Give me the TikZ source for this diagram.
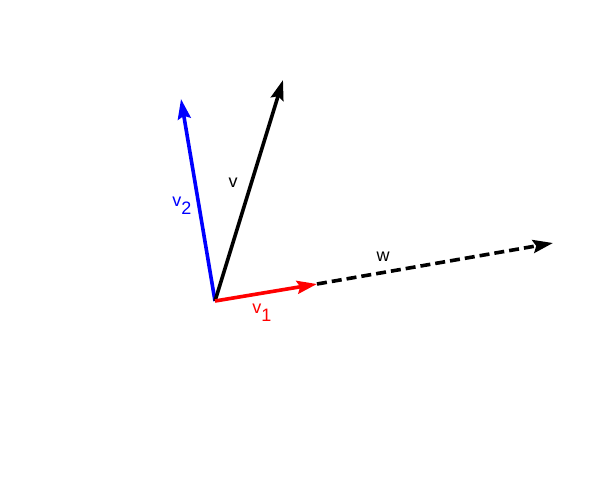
\documentclass[tikz,border=0pt]{standalone}
\usepackage{fontspec}
\setmainfont{Liberation Sans}
\usetikzlibrary{arrows.meta}
\begin{document}
\begin{tikzpicture}[x=1pt,y=-1pt,
  vec/.style={line width=3.6pt,-{Stealth[length=20pt,width=13pt,inset=3pt]}},
  lab/.style={font=\fontsize{18}{20}\selectfont,inner sep=0pt}]
\useasboundingbox (0,0) rectangle (607,483);
\coordinate (o) at (215,301);
\coordinate (v2tip) at (181,99);
\coordinate (vtip) at (283,80);
\coordinate (v1tip) at (317,284);
\coordinate (wtip) at (553,243);
\draw[vec,dash pattern=on 10pt off 5pt] (v1tip) -- (wtip);
\draw[vec,blue] (o) -- (v2tip);
\draw[vec,black] (o) -- (vtip);
\draw[vec,red] (o) -- (v1tip);
\node[lab] (lv) at (233,183) {v};
\node[lab,blue] (lv2) at (182,206) {v\raisebox{-0.45em}{2}};
\node[lab,red] (lv1) at (262,313) {v\raisebox{-0.45em}{1}};
\node[lab] (lw) at (383,257) {w};
\end{tikzpicture}
\end{document}
